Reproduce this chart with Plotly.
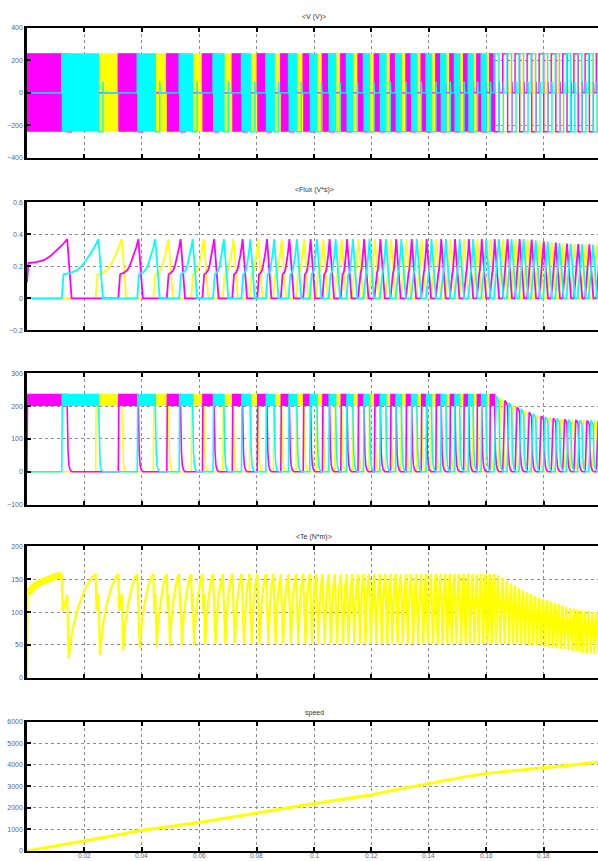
import plotly.graph_objects as go

# ---------------- data ----------------
# commutation strokes, phase sequence magenta -> cyan -> yellow (repeating)
stroke_on = [0.0000, 0.0121, 0.0239, 0.0318, 0.0384, 0.0440, 0.0487, 0.0530, 0.0572, 0.0611,
             0.0648, 0.0682, 0.0715, 0.0747, 0.0775, 0.0802, 0.0832, 0.0858, 0.0884, 0.0911,
             0.0937, 0.0962, 0.0985, 0.1007, 0.1029, 0.1051, 0.1072, 0.1093, 0.1113, 0.1133,
             0.1153, 0.1172, 0.1191, 0.1210, 0.1229, 0.1248, 0.1266, 0.1284, 0.1302, 0.1320,
             0.1338, 0.1356, 0.1373, 0.1390, 0.1407, 0.1424, 0.1441, 0.1457, 0.1473, 0.1489,
             0.1505, 0.1521, 0.1537, 0.1552, 0.1567, 0.1582, 0.1597, 0.1612, 0.1627, 0.1642,
             0.1657, 0.1672, 0.1686, 0.1700, 0.1714, 0.1728, 0.1742, 0.1756, 0.1770, 0.1784,
             0.1798, 0.1812, 0.1826, 0.1840, 0.1853, 0.1866, 0.1879, 0.1892, 0.1905, 0.1918,
             0.1931, 0.1944, 0.1957, 0.1970, 0.1983, 0.1996]
stroke_off = [0.0140, 0.0249, 0.0330, 0.0388, 0.0447, 0.0493, 0.0535, 0.0577, 0.0616, 0.0652,
              0.0686, 0.0719, 0.0751, 0.0778, 0.0805, 0.0836, 0.0861, 0.0887, 0.0914, 0.0940,
              0.0965, 0.0988, 0.1010, 0.1032, 0.1054, 0.1075, 0.1096, 0.1115, 0.1135, 0.1155,
              0.1174, 0.1193, 0.1212, 0.1231, 0.1250, 0.1268, 0.1286, 0.1304, 0.1322, 0.1340,
              0.1358, 0.1375, 0.1392, 0.1409, 0.1426, 0.1443, 0.1459, 0.1475, 0.1491, 0.1507,
              0.1523, 0.1539, 0.1554, 0.1569, 0.1584, 0.1599, 0.1614, 0.1629, 0.1644, 0.1659,
              0.1674, 0.1688, 0.1702, 0.1716, 0.1730, 0.1744, 0.1758, 0.1772, 0.1786, 0.1800,
              0.1814, 0.1828, 0.1842, 0.1855, 0.1868, 0.1881, 0.1894, 0.1907, 0.1920, 0.1933,
              0.1946, 0.1959, 0.1972, 0.1985, 0.1998, 0.2010]
flux_peak = [0.37] * 66 + [0.366, 0.362, 0.358, 0.355, 0.352, 0.349, 0.347, 0.345, 0.343, 0.341,
                           0.340, 0.339, 0.338, 0.337, 0.336, 0.336, 0.335, 0.335, 0.335, 0.335]
flux_knee = [0.22] + [0.15] * 85
flux_initial = 0.10
current_peak = [235] * 58 + [230, 224, 217, 210, 203, 197, 191, 186, 181, 177,
                             173, 170, 167, 165, 163, 162, 161, 160, 159, 158,
                             158, 157, 157, 156, 156, 155, 155, 155]
current_band = [200, 235]
torque_max = [156] + [158] * 57 + [156, 152, 148, 144, 140, 136, 133, 130, 127, 124,
                                   122, 120, 118, 116, 114, 112, 110, 108, 106, 105,
                                   104, 103, 102, 101, 100, 99, 98, 98]
torque_min = [128, 30, 35, 42, 45, 47, 48, 49, 50, 51] + [52] * 52 + \
             [52, 52, 51, 51, 50, 50, 49, 49, 48, 47, 46, 45, 44, 43, 42, 41, 40, 39, 38, 37,
              37, 36, 36, 36]
supply_voltage = 240
voltage_spike = 70
speed_time = [0.0, 0.01, 0.02, 0.03, 0.04, 0.05, 0.06, 0.07, 0.08, 0.09, 0.10,
              0.11, 0.12, 0.13, 0.14, 0.15, 0.16, 0.17, 0.18, 0.19, 0.20]
speed_rpm = [0, 230, 470, 710, 960, 1140, 1320, 1540, 1770, 1980, 2200,
             2400, 2610, 2880, 3140, 3380, 3600, 3720, 3840, 3990, 4140]

panel_titles = ["<V (V)>", "<Flux (V*s)>", "<I (A)>", "<Te (N*m)>", "speed"]
y_ranges = [[-400, 400], [-0.2, 0.6], [-100, 300], [0, 200], [0, 6000]]
y_dticks = [200, 0.2, 100, 50, 1000]
x_tick_vals = [0, 0.02, 0.04, 0.06, 0.08, 0.1, 0.12, 0.14, 0.16, 0.18, 0.2]
x_label_vals = [0.02, 0.04, 0.06, 0.08, 0.1, 0.12, 0.14, 0.16, 0.18]
x_label_text = ["0.02", "0.04", "0.06", "0.08", "0.1", "0.12", "0.14", "0.16", "0.18"]
t_end = 0.2

# ---------------- styles ----------------
phase_colors = ["#ff00ff", "#00ffff", "#ffff00"]   # magenta, cyan, yellow
draw_order = [2, 0, 1]                               # yellow first, cyan on top
N = len(stroke_on)
V = supply_voltage


def strokes_of(p):
    return [k for k in range(N) if k % 3 == p]


def chopping(k):
    return current_peak[k] >= current_band[1]


def voltage_paths(p):
    lx, ly, fx, fy = [0.0], [0.0], [], []
    for k in strokes_of(p):
        on, off = stroke_on[k], stroke_off[k]
        dm = flux_peak[k] / V
        lx += [on, on]
        ly += [0, V]
        if chopping(k):
            fx += [on, on, off, off, on, None]
            fy += [-V, V, V, -V, -V, None]
        lx += [off, off, off + dm, off + dm, off + dm + 0.0002]
        ly += [V, -V, -V, voltage_spike, 0]
    lx.append(t_end)
    ly.append(0)
    return lx, ly, fx, fy


def current_paths(p):
    lx, ly, fx, fy = [0.0], [0.0], [], []
    lo, hi = current_band
    for k in strokes_of(p):
        on, off, pk = stroke_on[k], stroke_off[k], current_peak[k]
        if chopping(k):
            lx += [on, on + 0.0002, off, off]
            ly += [0, hi, hi, lo]
            fx += [on + 0.0002, on + 0.0002, off, off, on + 0.0002, None]
            fy += [lo, hi, hi, lo, lo, None]
            v0 = lo
        else:
            c = off - on
            lx += [on, on + 0.45 * c, on + 0.75 * c, off]
            ly += [0, pk, 0.97 * pk, 0.92 * pk]
            v0 = 0.92 * pk
        for dt, f in zip([0.0003, 0.0006, 0.0010, 0.0016], [0.3, 0.1, 0.03, 0.0]):
            lx.append(off + dt)
            ly.append(v0 * f)
    lx.append(t_end)
    ly.append(0)
    return lx, ly, fx, fy


def flux_path(p):
    lx, ly = [], []
    if p != 0:
        lx.append(0.0)
        ly.append(0.0)
    for k in strokes_of(p):
        on, off, pk, kn = stroke_on[k], stroke_off[k], flux_peak[k], flux_knee[k]
        start = flux_initial if k == 0 else 0.0
        lx.append(on)
        ly.append(start)
        if chopping(k):
            tk = on + (kn - start) / V
            if tk < off:
                lx.append(tk)
                ly.append(kn)
                for s, f in zip([0.2, 0.4, 0.55, 0.75, 0.88], [0.04, 0.12, 0.27, 0.55, 0.76]):
                    lx.append(tk + s * (off - tk))
                    ly.append(kn + f * (pk - kn))
        lx += [off, off + pk / V]
        ly += [pk, 0]
    lx.append(t_end)
    ly.append(0)
    return lx, ly


def torque_path():
    tx, ty = [0.0, 0.0002], [0.0, torque_min[0]]
    first_end = 2
    for k in range(N):
        start = 0.0002 if k == 0 else stroke_off[k - 1] + 0.0005
        end = stroke_on[k + 1] if k + 1 < N else t_end
        vmin, vmax = torque_min[k], torque_max[k]
        if end > start:
            for s, f in zip([0.15, 0.35, 0.6, 0.85], [0.35, 0.6, 0.82, 0.96]):
                tx.append(start + s * (end - start))
                ty.append(vmin + f * (vmax - vmin))
            tx.append(end)
            ty.append(vmax)
        if k == 0:
            first_end = len(tx)
        if k + 1 < N:
            off = stroke_off[k]
            if off - end > 0.0005:
                tx += [end + 0.0003, off]
                ty += [vmax - 55, vmax - 30]
            tx.append(off + 0.0005)
            ty.append(torque_min[k + 1])
    return tx, ty, first_end


fig = go.Figure()

# panel 1: voltages
for p in draw_order:
    col = phase_colors[p]
    lx, ly, fx, fy = voltage_paths(p)
    if fx:
        fig.add_trace(go.Scatter(x=fx, y=fy, mode="lines", fill="toself", fillcolor=col,
                                 line=dict(width=0, color=col), xaxis="x", yaxis="y",
                                 hoverinfo="skip"))
    fig.add_trace(go.Scatter(x=lx, y=ly, mode="lines", line=dict(width=1.4, color=col),
                             xaxis="x", yaxis="y", hoverinfo="skip"))
# panel 2: flux
for p in draw_order:
    col = phase_colors[p]
    lx, ly = flux_path(p)
    fig.add_trace(go.Scatter(x=lx, y=ly, mode="lines", line=dict(width=1.8, color=col),
                             xaxis="x2", yaxis="y2", hoverinfo="skip"))
# panel 3: currents
for p in draw_order:
    col = phase_colors[p]
    lx, ly, fx, fy = current_paths(p)
    if fx:
        fig.add_trace(go.Scatter(x=fx, y=fy, mode="lines", fill="toself", fillcolor=col,
                                 line=dict(width=0, color=col), xaxis="x3", yaxis="y3",
                                 hoverinfo="skip"))
    fig.add_trace(go.Scatter(x=lx, y=ly, mode="lines", line=dict(width=1.6, color=col),
                             xaxis="x3", yaxis="y3", hoverinfo="skip"))

# panel 4: torque (first stroke drawn thick: chopping ripple band)
tx, ty, fe = torque_path()
fig.add_trace(go.Scatter(x=tx[1:fe], y=ty[1:fe], mode="lines",
                         line=dict(width=7, color="#ffff00"),
                         xaxis="x4", yaxis="y4", hoverinfo="skip"))
fig.add_trace(go.Scatter(x=tx, y=ty, mode="lines", line=dict(width=2.2, color="#ffff00"),
                         xaxis="x4", yaxis="y4", hoverinfo="skip"))
# panel 5: speed
fig.add_trace(go.Scatter(x=speed_time, y=speed_rpm, mode="lines",
                         line=dict(width=3, color="#ffff00"),
                         xaxis="x5", yaxis="y5", hoverinfo="skip"))

# ---------------- layout ----------------
W, H = 598, 861
ML, MB = 27, 10
plot_h = H - MB
panel_px = [(24, 154.5), (199, 328), (371, 503), (545, 677), (721, 851)]
title_px = [13, 187, 361, 536, 712]
x_end = 0.1989
tick_col = "#5a6488"

layout = dict(width=W, height=H, margin=dict(l=ML, r=0, t=0, b=MB),
              paper_bgcolor="white", plot_bgcolor="white", showlegend=False,
              font=dict(family="Liberation Sans, Arial, sans-serif", size=7, color=tick_col))
annotations = []
for i in range(5):
    top, bot = panel_px[i]
    xa = "xaxis" if i == 0 else f"xaxis{i + 1}"
    ya = "yaxis" if i == 0 else f"yaxis{i + 1}"
    yid = "y" if i == 0 else f"y{i + 1}"
    xid = "x" if i == 0 else f"x{i + 1}"
    layout[xa] = dict(domain=[0, 1], anchor=yid, range=[0, x_end],
                      tickmode="array", tickvals=x_tick_vals,
                      showticklabels=False, ticks="inside", ticklen=4, tickwidth=1.5,
                      tickcolor="black", showline=True, linecolor="black", linewidth=2,
                      mirror="ticks", showgrid=True, gridcolor="#8c8c8c", griddash="dot",
                      gridwidth=1, zeroline=False)
    lo, hi = y_ranges[i]
    layout[ya] = dict(domain=[(plot_h - bot) / plot_h, (plot_h - top) / plot_h], anchor=xid,
                      range=[lo, hi], dtick=y_dticks[i], tick0=lo, ticks="inside",
                      ticklen=4, tickwidth=1.5, tickcolor="black", showline=True,
                      linecolor="black", linewidth=2.5, mirror=False, showgrid=True,
                      gridcolor="#8c8c8c", griddash="dot", gridwidth=1, zeroline=False,
                      tickfont=dict(size=7, color=tick_col))
    annotations.append(dict(text=panel_titles[i], xref="paper", yref="paper",
                            x=(314 - ML) / (W - ML), y=(plot_h - title_px[i]) / plot_h,
                            showarrow=False, xanchor="center", yanchor="middle",
                            font=dict(size=7, color="#333333")))
# bottom time-axis labels (kept inside the picture)
for v, s in zip(x_label_vals, x_label_text):
    annotations.append(dict(text=s, xref="x5", yref="paper", x=v, y=0, yshift=-9,
                            showarrow=False, xanchor="center", yanchor="bottom", borderpad=0,
                            font=dict(size=6.5, color=tick_col)))
layout["annotations"] = annotations
fig.update_layout(**layout)

fig.write_html("out.html", config={"displayModeBar": False},
               post_script="document.body.style.margin='0';document.body.style.overflow='hidden';")
